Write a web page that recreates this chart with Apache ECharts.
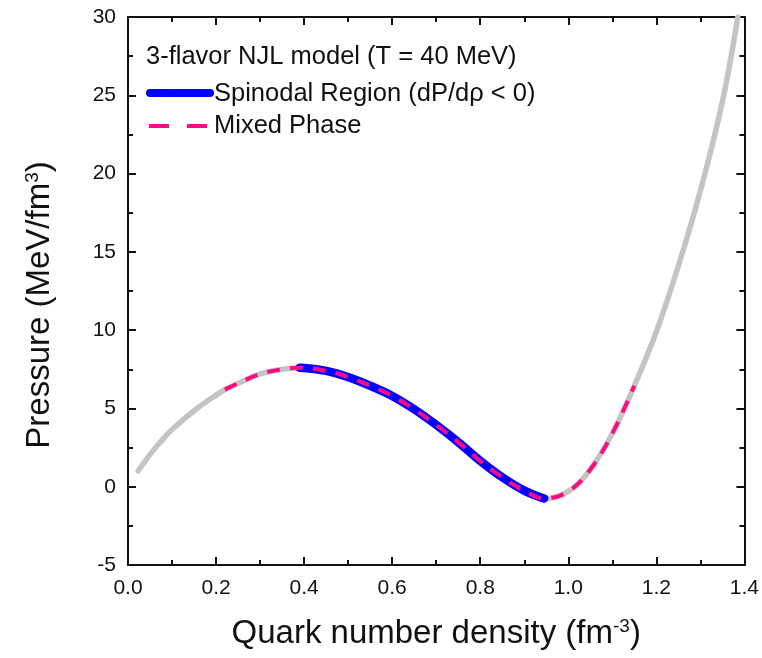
<!DOCTYPE html>
<html>
<head>
<meta charset="utf-8">
<script src="https://cdn.jsdelivr.net/npm/echarts@6/dist/echarts.min.js"></script>
<style>
  html, body { margin: 0; padding: 0; background: #fff; }
  #chart { width: 762px; height: 658px; }
</style>
</head>
<body>
<div id="chart"></div>
<script>
// quark number density (fm^-3) and pressure (MeV/fm^3)
const density = [0.023, 0.05, 0.075, 0.1, 0.15, 0.2, 0.22, 0.25, 0.3, 0.35, 0.39, 0.45, 0.5, 0.55, 0.6, 0.65,
  0.7, 0.75, 0.8, 0.85, 0.9, 0.945, 1.0, 1.05, 1.1, 1.15, 1.2, 1.25, 1.3, 1.35, 1.385]
const pressure = [1.0, 2.05, 2.9, 3.65, 4.85, 5.85, 6.2, 6.6, 7.2, 7.5, 7.6, 7.4, 7.0, 6.45, 5.8, 4.95,
  3.95, 2.85, 1.65, 0.6, -0.25, -0.75, -0.3, 1.1, 3.4, 6.45, 9.9, 14.1, 18.9, 24.6, 30]

// density ranges of the highlighted parts
const spinodalRange = [0.39, 0.945]
const mixedRange = [0.22, 1.15]

const xTicks = [0, 0.2, 0.4, 0.6, 0.8, 1.0, 1.2, 1.4]
const yTicks = [-5, 0, 5, 10, 15, 20, 25, 30]

const legendTitle = '3-flavor NJL model (T = 40 MeV)'
const legendNames = ['Spinodal Region (dP/dρ < 0)', 'Mixed Phase']

const full = density.map((d, i) => [d, pressure[i]])
const inRange = (r) => full.filter((p) => p[0] >= r[0] - 1e-9 && p[0] <= r[1] + 1e-9)

const font = '"Liberation Sans", Arial, sans-serif'
const ink = '#111'
const gray = '#c4c4c4'
const blue = '#0000ff'
const pink = '#ff0a84'

function axisBase(show) {
  return {
    axisLine: { show: true, onZero: false, lineStyle: { color: ink, width: 2 } },
    axisTick: { show: true, inside: true, length: 8, lineStyle: { color: ink, width: 2 } },
    minorTick: { show: true, splitNumber: 2, length: 5, lineStyle: { color: ink, width: 2 } },
    splitLine: { show: false },
    axisLabel: { show: show, color: ink, fontSize: 21, fontFamily: font },
  }
}

const supStyle = { fontSize: 19, verticalAlign: 'top', color: ink, fontFamily: font, padding: [0, 0, 14, 0] }

const chart = echarts.init(document.getElementById('chart'))

const option = {
  animation: false,
  backgroundColor: '#fff',
  grid: { left: 128, right: 15, top: 17, bottom: 93 },
  xAxis: [
    {
      type: 'value',
      position: 'bottom',
      min: xTicks[0],
      max: xTicks[xTicks.length - 1],
      interval: 0.2,
      ...axisBase(true),
      axisLabel: { ...axisBase(true).axisLabel, margin: 13, formatter: (v) => v.toFixed(1) },
      name: 'Quark number density (fm{sup|-3})',
      nameLocation: 'middle',
      nameGap: 52,
      nameTextStyle: { color: ink, fontSize: 33, fontFamily: font, rich: { sup: supStyle } },
    },
    {
      type: 'value',
      position: 'top',
      min: xTicks[0],
      max: xTicks[xTicks.length - 1],
      interval: 0.2,
      ...axisBase(false),
    },
  ],
  yAxis: [
    {
      type: 'value',
      position: 'left',
      min: yTicks[0],
      max: yTicks[yTicks.length - 1],
      interval: 5,
      ...axisBase(true),
      axisLabel: { ...axisBase(true).axisLabel, margin: 12 },
      name: 'Pressure (MeV/fm{sup|3})',
      nameLocation: 'middle',
      nameGap: 72,
      nameTextStyle: {
        color: ink,
        fontSize: 33,
        fontFamily: font,
        padding: [0, 28, 0, 0],
        rich: { sup: supStyle },
      },
    },
    {
      type: 'value',
      position: 'right',
      min: yTicks[0],
      max: yTicks[yTicks.length - 1],
      interval: 5,
      ...axisBase(false),
    },
  ],
  series: [
    {
      name: 'EOS',
      type: 'line',
      data: full,
      smooth: 0.4,
      symbol: 'none',
      lineStyle: { color: gray, width: 5.5, cap: 'round' },
      z: 2,
    },
    {
      name: legendNames[0],
      type: 'line',
      data: inRange(spinodalRange),
      smooth: 0.4,
      symbol: 'none',
      lineStyle: { color: blue, width: 8.5, cap: 'round' },
      z: 3,
    },
    {
      name: legendNames[1],
      type: 'line',
      data: inRange(mixedRange),
      smooth: 0.4,
      symbol: 'none',
      lineStyle: { color: pink, width: 4, type: [13, 10] },
      z: 4,
    },
  ],
  graphic: [
    {
      type: 'text',
      x: 146,
      y: 57,
      style: { text: legendTitle, fill: ink, fontSize: 25.5, fontFamily: font, verticalAlign: 'middle' },
    },
    {
      type: 'line',
      shape: { x1: 150, y1: 93, x2: 210, y2: 93 },
      style: { stroke: blue, lineWidth: 8, lineCap: 'round' },
    },
    {
      type: 'text',
      x: 214,
      y: 94,
      style: { text: legendNames[0], fill: ink, fontSize: 25.5, fontFamily: font, verticalAlign: 'middle' },
    },
    {
      type: 'line',
      shape: { x1: 149, y1: 126, x2: 207, y2: 126 },
      style: { stroke: pink, lineWidth: 4, lineDash: [20, 18] },
    },
    {
      type: 'text',
      x: 214,
      y: 126,
      style: { text: legendNames[1], fill: ink, fontSize: 25.5, fontFamily: font, verticalAlign: 'middle' },
    },
  ],
}

chart.setOption(option)
</script>
</body>
</html>
